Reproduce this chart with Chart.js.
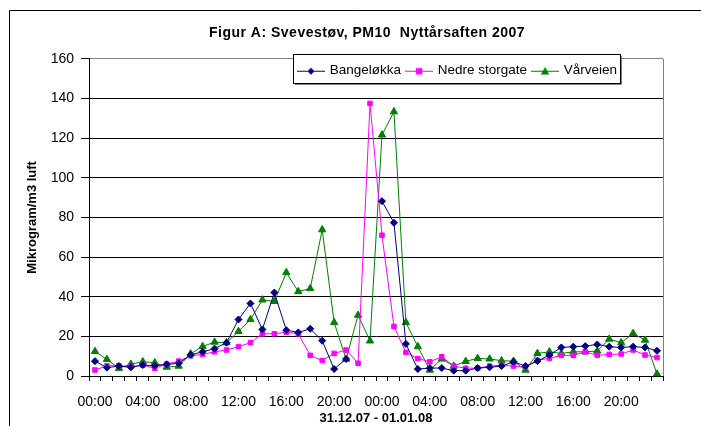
<!DOCTYPE html>
<html>
<head>
<meta charset="utf-8">
<script src="https://cdn.jsdelivr.net/npm/chart.js@4/dist/chart.umd.min.js"></script>
<style>
  html, body { margin: 0; padding: 0; background: #fff; }
</style>
</head>
<body>
<canvas id="pmChart" width="701" height="426"></canvas>
<script>
const hours = [
  "00:00","01:00","02:00","03:00","04:00","05:00","06:00","07:00","08:00","09:00","10:00","11:00",
  "12:00","13:00","14:00","15:00","16:00","17:00","18:00","19:00","20:00","21:00","22:00","23:00",
  "00:00","01:00","02:00","03:00","04:00","05:00","06:00","07:00","08:00","09:00","10:00","11:00",
  "12:00","13:00","14:00","15:00","16:00","17:00","18:00","19:00","20:00","21:00","22:00","23:00"
];
const bangelokka = [7.5, 4.2, 5, 4.4, 5.5, 5.2, 5.9, 6.4, 10.7, 12.2, 13.8, 16.8,
  28.5, 36.6, 23.5, 42.1, 23.1, 22, 23.8, 17.8, 3.5, 8.6, null, null,
  88.2, 77.3, 16.2, 3.5, 4, 4, 2.7, 2.7, 4, 4.4, 5, 7.2,
  5, 7.5, 10.6, 14.4, 14.8, 15.1, 15.9, 14.8, 14.4, 14.8, 14.4, 12.7];
const nedreStorgate = [3, 5.2, 5.2, 4.7, 5.5, 3.9, 6, 7.5, 10.2, 10.9, 12.2, 13.1,
  14.8, 16.8, 21.3, 21.3, 22.1, 21.3, 10.4, 7.8, 11.4, 13.1, 6.4, 137.5,
  71, 25, 11.9, 8.8, 7.2, 9.7, 5, 3.9, 4, 5, 5.5, 5,
  4.4, 8, 8.9, 10.4, 10.4, 12.2, 10.4, 10.9, 11.1, 13.1, 10.6, 9.3];
const varveien = [12.4, 8.4, 3.9, 6, 7.2, 6.7, 4.5, 5, 11.2, 14.9, 17.1, 16.8,
  22.5, 28.5, 38.4, 37.6, 52.2, 42.6, 44.1, 73.8, 27, 8.5, 30.7, 17.7,
  121.6, 133.3, 27, 14.8, 3, 8.6, 5, 7.4, 8.9, 8.6, 7.7, 7.5,
  3, 11.4, 12.2, 11.4, 12.2, 12.2, 12.6, 18.6, 16.8, 21.5, 18.1, 1];
const yMin = 0, yMax = 160, yStep = 20;

const FONT = 'Arial, "Liberation Sans", sans-serif';
const legendBox = { x: 293, y: 54, w: 328, h: 30 };

// little "line with marker" pictures for the legend, like Excel draws them
function legendIcon(color, style, r) {
  const c = document.createElement('canvas');
  c.width = 28; c.height = 10;
  const g = c.getContext('2d');
  g.strokeStyle = color; g.fillStyle = color; g.lineWidth = 1;
  g.beginPath(); g.moveTo(0, 5.5); g.lineTo(28, 5.5); g.stroke();
  g.beginPath();
  if (style === 'rectRot') {
    g.moveTo(14, 5.5 - r); g.lineTo(14 + r, 5.5); g.lineTo(14, 5.5 + r); g.lineTo(14 - r, 5.5);
  } else if (style === 'rect') {
    g.rect(14 - r, 5.5 - r, 2 * r, 2 * r);
  } else {
    g.moveTo(14, 5.5 - r); g.lineTo(14 + r, 5.5 + r * 0.8); g.lineTo(14 - r, 5.5 + r * 0.8);
  }
  g.closePath(); g.fill();
  return c;
}

const frame = {
  id: 'frame',
  beforeLayout(chart) {
    // legend sits over the plot, so it takes no room in the layout
    const lg = chart.legend;
    if (lg && !lg._patched) {
      const fit = lg.fit.bind(lg);
      lg.fit = function () { fit(); this.height = 0; };
      const draw = lg.draw.bind(lg);
      lg.draw = function () {
        const c = chart.ctx, b = legendBox;
        c.save();
        c.fillStyle = '#fff';
        c.fillRect(b.x, b.y, b.w, b.h);
        c.strokeStyle = '#808080';
        c.beginPath();
        c.moveTo(b.x + b.w + 0.5, b.y + 2); c.lineTo(b.x + b.w + 0.5, b.y + b.h + 0.5);
        c.lineTo(b.x + 2, b.y + b.h + 0.5);
        c.stroke();
        c.strokeStyle = '#000';
        c.strokeRect(b.x + 0.5, b.y + 0.5, b.w - 1, b.h - 1);
        c.restore();
        draw();
      };
      lg._patched = true;
    }
    const t = chart.titleBlock;
    if (t && !t._patched) {
      const draw = t.draw.bind(t);
      t.draw = function () {
        const c = chart.ctx;
        c.save();
        c.letterSpacing = '0.5px';
        draw();
        c.restore();
      };
      t._patched = true;
    }
  },
  afterLayout(chart) {
    const t = chart.titleBlock;
    t.left = 67; t.right = 667; t.width = 600;
    const lg = chart.legend;
    lg.left = legendBox.x; lg.right = legendBox.x + legendBox.w + 20;
    lg.top = legendBox.y + 4; lg.bottom = legendBox.y + legendBox.h;
    lg.width = lg.right - lg.left; lg.height = lg.bottom - lg.top;
  },
  beforeDraw(chart) {
    const c = chart.ctx;
    c.save();
    c.fillStyle = '#fff';
    c.fillRect(0, 0, chart.width, chart.height);
    c.strokeStyle = '#000';
    c.lineWidth = 1;
    c.beginPath();
    c.moveTo(9.5, chart.height); c.lineTo(9.5, 10.5); c.lineTo(chart.width, 10.5);
    c.stroke();
    c.restore();
  },
  beforeDatasetsDraw(chart) {
    const a = chart.chartArea, c = chart.ctx;
    c.save();
    c.strokeStyle = '#808080';
    c.lineWidth = 1;
    c.beginPath();
    c.moveTo(Math.round(a.right) + 0.5, a.top);
    c.lineTo(Math.round(a.right) + 0.5, a.bottom);
    c.stroke();
    c.restore();
  }
};

const series = [
  { label: 'Bangeløkka', data: bangelokka, color: '#000080', style: 'rectRot', r: 3.5 },
  { label: 'Nedre storgate', data: nedreStorgate, color: '#FF00FF', style: 'rect', r: 3.2 },
  { label: 'Vårveien', data: varveien, color: '#008000', style: 'triangle', r: 4.2 }
];

const chart = new Chart(document.getElementById('pmChart'), {
  type: 'line',
  data: {
    labels: hours,
    datasets: series.map(s => ({
      label: s.label,
      data: s.data,
      borderColor: s.color,
      backgroundColor: s.color,
      pointBackgroundColor: s.color,
      pointBorderColor: s.color,
      pointStyle: s.style,
      pointRadius: s.r,
      pointBorderWidth: 1,
      borderWidth: 1,
      tension: 0,
      spanGaps: false
    }))
  },
  options: {
    responsive: false,
    animation: false,
    events: [],
    layout: { padding: { top: 12, left: 14, right: 38, bottom: 0 } },
    plugins: {
      title: {
        display: true,
        text: 'Figur A: Svevestøv, PM10  Nyttårsaften 2007',
        color: '#000',
        font: { family: FONT, size: 14, weight: 'bold' },
        padding: { top: 13, bottom: 17 }
      },
      legend: {
        position: 'top',
        align: 'start',
        labels: {
          color: '#000',
          font: { family: FONT, size: 13.5 },
          usePointStyle: true,
          pointStyleWidth: 24,
          padding: 6,
          generateLabels(ch) {
            const items = Chart.defaults.plugins.legend.labels.generateLabels(ch);
            items.forEach((it, i) => {
              it.pointStyle = legendIcon(series[i].color, series[i].style, series[i].r);
            });
            return items;
          }
        }
      },
      tooltip: { enabled: false }
    },
    scales: {
      x: {
        type: 'category',
        offset: true,
        grid: { drawOnChartArea: false, offset: true, tickLength: 5, color: '#000' },
        border: { color: '#000' },
        ticks: {
          autoSkip: false,
          maxRotation: 0,
          minRotation: 0,
          padding: 13,
          color: '#000',
          font: { family: FONT, size: 14 },
          callback: (v, i) => (i % 4 === 0 ? hours[i] : '')
        },
        title: {
          display: true,
          text: '31.12.07 - 01.01.08',
          color: '#000',
          font: { family: FONT, size: 13, weight: 'bold' },
          padding: { top: 0, bottom: 0 }
        },
        afterFit(scale) { scale.height = 50; }
      },
      y: {
        min: yMin,
        max: yMax,
        grid: {
          color: c => (c.tick && c.tick.value === yMax ? '#808080' : '#000'),
          tickColor: '#000',
          tickLength: 8
        },
        border: { color: '#000' },
        ticks: {
          stepSize: yStep,
          padding: 7,
          color: '#000',
          font: { family: FONT, size: 14 }
        },
        title: {
          display: true,
          text: 'Mikrogram/m3 luft',
          color: '#000',
          font: { family: FONT, size: 13, weight: 'bold' },
          padding: { top: 11, bottom: 0 }
        },
        afterFit(scale) { scale.width = 75; }
      }
    }
  },
  plugins: [frame]
});
</script>
</body>
</html>
